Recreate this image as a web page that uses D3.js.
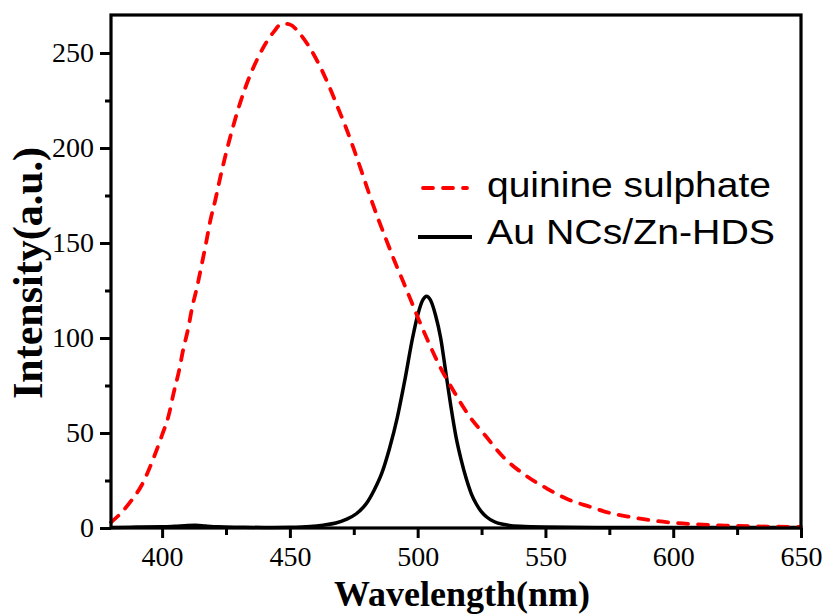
<!DOCTYPE html>
<html>
<head>
<meta charset="utf-8">
<script src="https://cdn.jsdelivr.net/npm/d3@7"></script>
<style>
body{margin:0;background:#fff;}
svg{display:block;}
</style>
</head>
<body>
<div id="plotdiv"></div>
<script>
// quinine sulphate reference (red dashed)
var qsWave = [380,384,388,392,397,400,402.6,404.5,406.5,408.2,410.2,411.7,413.7,415.4,417.2,418.9,420.8,422.5,426.5,430.6,434.5,437.7,440.5,443.6,447,450,454,457.9,462.5,465.5,469,472,475,478.1,481,484.6,487.9,491.1,494.4,497,500,504,508.7,514.6,520.4,526.3,533.4,542,550.4,558.9,567.4,575.8,584.2,592.7,601.2,609,620,630,640,650];
var qsInt  = [3,8,14.5,22.5,38,49,59.4,71,82,93.6,105,115.7,127,138,150,162,172.5,183,205,224,238.5,248,255,261,265.5,265,260,252.5,241,232,220.5,210.5,199.5,187.5,176,162.5,151,140,129.5,121,111,98.5,85,70.9,58.5,48.9,37.5,27.9,20.9,15,11.2,7.7,5.6,3.8,2.6,1.9,1.3,0.9,0.7,0.6];

// Au NCs/Zn-HDS (black solid)
var auWave = [380,390,400,405,410,413,417,422,430,440,450,458,463,468,472,476,480,483,486,489,492,495,498,500,502,503.5,505,507,509,511,513,515,517,519,521,523,525,527,530,534,540,550,570,600,650];
var auInt  = [0.3,0.5,0.6,0.9,1.3,1.4,1.0,0.6,0.4,0.3,0.4,0.8,1.5,2.6,4.5,7.5,13,20,29,42,58,78,100,112,120,122,120,112,100,82,64,48,36,26,18,12.5,8.5,5.8,3.3,1.8,0.9,0.5,0.3,0.2,0.2];

var xTicks = [400,450,500,550,600,650];
var yTicks = [0,50,100,150,200,250];
var legendNames = ["quinine sulphate","Au NCs/Zn-HDS"];

var width = 827, height = 614;
var pLeft = 111, pTop = 15, pRight = 801, pBottom = 528;

var svg = d3.select("#plotdiv").append("svg")
	.attr("width",width)
	.attr("height",height);

var x = d3.scaleLinear().domain([380,650]).range([pLeft,pRight]);
var y = d3.scaleLinear().domain([0,270]).range([pBottom,pTop]);

var line = d3.line()
	.x(function(d){return x(d[0]);})
	.y(function(d){return y(d[1]);})
	.curve(d3.curveMonotoneX);

var qs = qsWave.map(function(w,i){return [w,qsInt[i]];});
var au = auWave.map(function(w,i){return [w,auInt[i]];});

var plot = svg.append("g");
plot.append("path")
	.attr("d",line(au))
	.attr("fill","none")
	.attr("stroke","#000")
	.attr("stroke-width",3.5);
plot.append("path")
	.attr("d",line(qs))
	.attr("fill","none")
	.attr("stroke","#ff0000")
	.attr("stroke-width",3.8)
	.attr("stroke-linecap","round")
	.attr("stroke-dasharray","10,10");

// axes
var minorX = [425,475,525,575,625];
var minorY = [25,75,125,175,225];

var xAxis = d3.axisBottom(x).tickValues(xTicks).tickSize(10).tickPadding(8).tickFormat(d3.format("d"));
var xAxisMinor = d3.axisBottom(x).tickValues(minorX).tickSize(7).tickFormat("");
var yAxis = d3.axisLeft(y).tickValues(yTicks).tickSize(11).tickPadding(6).tickFormat(d3.format("d"));
var yAxisMinor = d3.axisLeft(y).tickValues(minorY).tickSize(6).tickFormat("");

function styleAxis(g){
	g.select(".domain").remove();
	g.selectAll("line").attr("stroke","#000").attr("stroke-width",3);
	g.selectAll("text")
		.attr("fill","#000")
		.style("font-family","'Liberation Serif','Times New Roman',serif")
		.style("font-size","28px");
}

svg.append("g").attr("transform","translate(0,"+pBottom+")").call(xAxis).call(styleAxis);
svg.append("g").attr("transform","translate(0,"+pBottom+")").call(xAxisMinor).call(styleAxis);
svg.append("g").attr("transform","translate("+pLeft+",0)").call(yAxis).call(styleAxis);
svg.append("g").attr("transform","translate("+pLeft+",0)").call(yAxisMinor).call(styleAxis);

// frame
svg.append("rect")
	.attr("x",pLeft)
	.attr("y",pTop)
	.attr("width",pRight-pLeft)
	.attr("height",pBottom-pTop)
	.attr("fill","none")
	.attr("stroke","#000")
	.attr("stroke-width",3.2);

// titles
svg.append("text")
	.attr("x",462)
	.attr("y",606)
	.attr("text-anchor","middle")
	.style("font-family","'Liberation Serif','Times New Roman',serif")
	.style("font-weight","bold")
	.style("font-size","36px")
	.text("Wavelength(nm)");

svg.append("text")
	.attr("transform","translate(42,273) rotate(-90)")
	.attr("text-anchor","middle")
	.style("font-family","'Liberation Serif','Times New Roman',serif")
	.style("font-weight","bold")
	.style("font-size","42px")
	.text("Intensity(a.u.)");

// legend
var legend = svg.append("g");
var legY = [188,237];
legend.append("line")
	.attr("x1",423).attr("x2",467).attr("y1",legY[0]).attr("y2",legY[0])
	.attr("stroke","#ff0000").attr("stroke-width",3.8)
	.attr("stroke-linecap","round").attr("stroke-dasharray","10,10");
legend.append("line")
	.attr("x1",418).attr("x2",472).attr("y1",legY[1]).attr("y2",legY[1])
	.attr("stroke","#000").attr("stroke-width",3.8);
legend.selectAll("text.leg")
	.data(legendNames)
	.enter().append("text")
	.attr("class","leg")
	.attr("x",487)
	.attr("y",function(d,i){return [197,244][i];})
	.attr("textLength",function(d,i){return [284,288][i];})
	.attr("lengthAdjust","spacingAndGlyphs")
	.style("font-family","'Liberation Sans',Arial,sans-serif")
	.style("font-size","35px")
	.text(function(d){return d;});
</script>
</body>
</html>
